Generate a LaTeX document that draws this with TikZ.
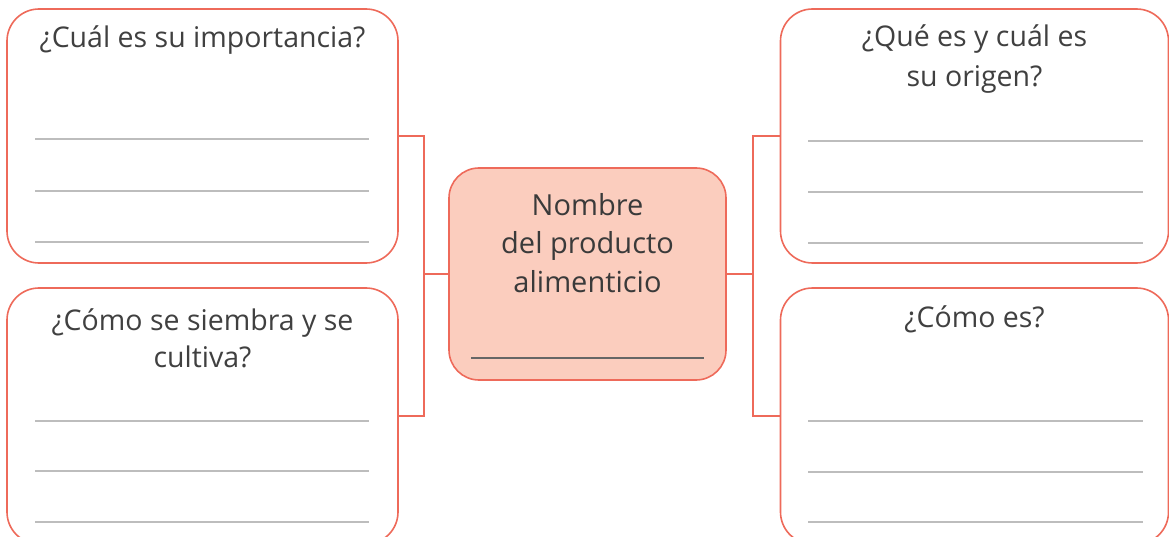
\documentclass[tikz,border=0pt]{standalone}
\usepackage{fontspec}
\setmainfont{Open Sans}
\definecolor{coral}{HTML}{EE6A5A}
\definecolor{salmon}{HTML}{FBCDBE}
\definecolor{rule}{HTML}{BDBDBD}
\definecolor{ink}{HTML}{404040}
\tikzset{
  qbox/.style={draw=coral, line width=1.6pt, rounded corners=32pt, fill=white, inner sep=0pt},
  cbox/.style={draw=coral, line width=1.6pt, rounded corners=30pt, fill=salmon, inner sep=0pt},
  link/.style={draw=coral, line width=1.6pt},
  wline/.style={draw=rule, line width=1.6pt},
  cline/.style={draw=ink!80, line width=1.6pt},
  qtext/.style={text=ink, font=\fontsize{28.5}{39}\selectfont, align=center, inner sep=0pt},
  ctext/.style={text=ink!90!black, font=\fontsize{29}{38.5}\selectfont, align=center, inner sep=0pt}
}
\begin{document}
\begin{tikzpicture}[x=1pt,y=-1pt]
\useasboundingbox (0,0) rectangle (1169,537);
\clip (0,0) rectangle (1169,537);
% boxes
\node[qbox, minimum width=391pt, minimum height=254pt] (tl) at (202.5,136) {};
\node[qbox, minimum width=391pt, minimum height=256pt] (bl) at (202.5,416) {};
\node[qbox, minimum width=388pt, minimum height=254pt] (tr) at (974.5,136) {};
\node[qbox, minimum width=388pt, minimum height=256pt] (br) at (974.5,416) {};
\node[cbox, minimum width=277pt, minimum height=212pt] (c) at (587.5,274) {};
% connectors
\coordinate (lj) at (424,274);
\coordinate (rj) at (753,274);
\draw[link] (tl.east) -| (lj) |- (bl.east);
\draw[link] (lj) -- (c.west);
\draw[link] (tr.west) -| (rj) |- (br.west);
\draw[link] (rj) -- (c.east);
% writing lines
\foreach \y in {139,191,242} \draw[wline] (35,\y) -- (369,\y);
\foreach \y in {421,471,522} \draw[wline] (35,\y) -- (369,\y);
\foreach \y in {141,192,243} \draw[wline] (808,\y) -- (1143,\y);
\foreach \y in {421,472,522} \draw[wline] (808,\y) -- (1143,\y);
\draw[cline] (471,358) -- (704,358);
% texts
\node[qtext, anchor=base] (t1) at (202.5,48) {¿Cuál es su importancia?};
\node[qtext, anchor=base, font=\fontsize{28.5}{37}\selectfont] (t2) at (202.5,367) {¿Cómo se siembra y se\\cultiva?};
\node[qtext, anchor=base, font=\fontsize{28.5}{40}\selectfont] (t3) at (974.5,87) {¿Qué es y cuál es\\su origen?};
\node[qtext, anchor=base] (t4) at (974.5,327) {¿Cómo es?};
\node[ctext, anchor=base] (t5) at (587.5,292) {Nombre\\del producto\\alimenticio};
\end{tikzpicture}
\end{document}
